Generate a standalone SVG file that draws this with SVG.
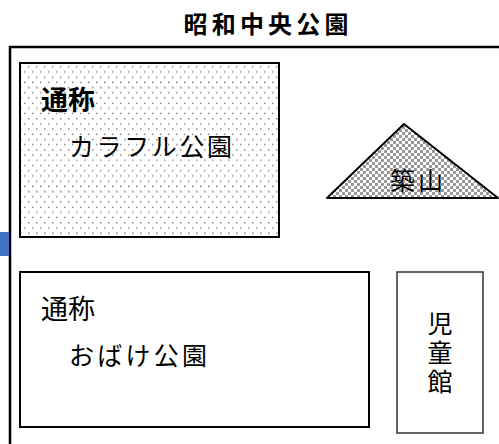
<svg xmlns="http://www.w3.org/2000/svg" width="499" height="444" viewBox="0 0 499 444">
<style>
.t{font-family:"Noto Sans CJK JP","Noto Sans CJK SC",sans-serif;fill:#000}
.b{font-weight:bold}
.box{fill:none;stroke:#000;stroke-width:2}
</style>
<defs>
<pattern id="dots" width="16" height="10.4" patternUnits="userSpaceOnUse" x="22" y="65">
<rect x="6" y="1" width="1.5" height="1.5" fill="#888"/>
<rect x="14" y="1" width="1.5" height="1.5" fill="#888"/>
<rect x="2" y="6.2" width="1.5" height="1.5" fill="#888"/>
<rect x="10" y="6.2" width="1.5" height="1.5" fill="#888"/>
</pattern>
<pattern id="check" width="6" height="6" patternUnits="userSpaceOnUse">
<rect width="6" height="6" fill="#fff"/>
<rect width="3" height="3" fill="#999"/>
<rect x="3" y="3" width="3" height="3" fill="#999"/>
</pattern>
</defs>
<rect width="499" height="444" fill="#fff"/>
<g id="title"><text class="t b" x="266" y="33" font-size="24" text-anchor="middle" textLength="165">昭和中央公園</text></g>
<g id="border"><path d="M10,444 V47 H499" fill="none" stroke="#000" stroke-width="2.5"/></g>
<g id="marker"><rect x="0" y="232" width="9" height="24" fill="#4472C4"/></g>
<g id="colorful">
<rect x="20" y="63" width="259" height="174" fill="url(#dots)"/>
<rect class="box" x="20" y="63" width="259" height="174"/>
<text class="t b" x="41" y="110" font-size="27">通称</text>
<text class="t" x="69" y="156" font-size="25" textLength="163">カラフル公園</text>
</g>
<g id="tsukiyama">
<polygon points="404,124 327,198 498,198" fill="url(#check)" stroke="#000" stroke-width="2" stroke-linejoin="round"/>
<text class="t" x="390" y="190" font-size="25" fill="#222" textLength="53">築山</text>
</g>
<g id="obake">
<rect class="box" x="20" y="272" width="349" height="155"/>
<text class="t" x="41" y="319" font-size="27">通称</text>
<text class="t" x="69" y="365" font-size="25" textLength="138">おばけ公園</text>
</g>
<g id="jidoukan">
<rect x="397" y="272" width="86" height="161" fill="none" stroke="#333" stroke-width="1.5"/>
<text class="t" x="440" y="311" font-size="25" writing-mode="vertical-rl" letter-spacing="4">児童館</text>
</g>
</svg>
